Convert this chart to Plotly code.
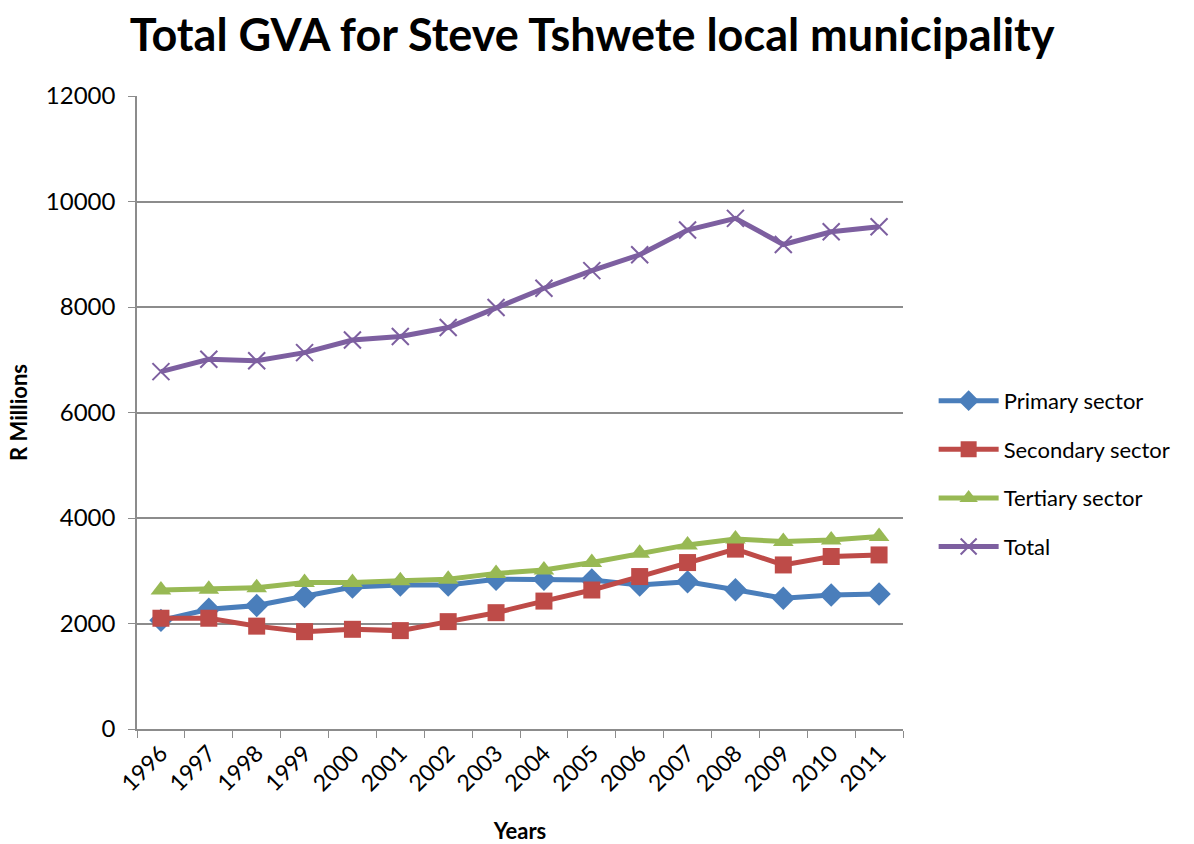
import plotly.graph_objects as go

years = [str(y) for y in range(1996, 2012)]
primary = [2060, 2270, 2340, 2510, 2690, 2730, 2730, 2840, 2840, 2825, 2730, 2790, 2640, 2480, 2540, 2560]
secondary = [2100, 2100, 1950, 1845, 1890, 1865, 2035, 2205, 2425, 2635, 2890, 3155, 3410, 3110, 3270, 3300]
tertiary = [2635, 2650, 2680, 2775, 2775, 2810, 2840, 2950, 3015, 3155, 3330, 3490, 3600, 3555, 3585, 3650]
total = [6775, 7010, 6980, 7135, 7375, 7440, 7610, 7990, 8355, 8690, 8990, 9460, 9680, 9185, 9425, 9520]
y_ticks = [0, 2000, 4000, 6000, 8000, 10000, 12000]

FONT = "Lato"
GRID = "#8c8c8c"

series = [
    ("Primary sector", primary, "#4A7EBB", "diamond", 18),
    ("Secondary sector", secondary, "#BE4B48", "square", 17),
    ("Tertiary sector", tertiary, "#98B954", "triangle-up", 18),
    ("Total", total, "#7D5FA0", "x-thin", 17),
]

fig = go.Figure()
for name, vals, color, sym, size in series:
    if sym == "x-thin":
        marker = dict(symbol=sym, size=size, color=color, line=dict(color=color, width=2))
    else:
        marker = dict(symbol=sym, size=size, color=color)
    fig.add_trace(go.Scatter(
        x=years, y=vals, name=name, mode="lines+markers", legendgroup=name,
        line=dict(color=color, width=5), marker=marker,
    ))

fig.update_layout(
    width=1194, height=844,
    margin=dict(l=137, r=291, t=96, b=115),
    paper_bgcolor="white", plot_bgcolor="white",
    font=dict(family=FONT, size=22, color="black"),
    title=dict(
        text="<b>Total GVA for Steve Tshwete local municipality</b>",
        x=0.496, xanchor="center", y=0.958, yanchor="middle",
        font=dict(family=FONT, size=45, color="black"),
    ),
    showlegend=True,
    legend=dict(
        x=1.04, xanchor="left", y=0.403, yanchor="middle",
        font=dict(family=FONT, size=22), tracegroupgap=17,
        itemwidth=60, bgcolor="rgba(0,0,0,0)",
    ),
    xaxis=dict(
        type="category", range=[-0.5, 15.5], tickangle=-45, tickson="boundaries",
        ticks="outside", ticklen=7, tickcolor=GRID, automargin=False,
        showline=True, linecolor=GRID, linewidth=1.5,
        showgrid=False, tickfont=dict(family=FONT, size=23),
        title=dict(text="<b>Years</b>", font=dict(family=FONT, size=22), standoff=28),
    ),
    yaxis=dict(
        range=[0, 12000], tickmode="array", tickvals=y_ticks,
        ticktext=[str(v) for v in y_ticks], automargin=False,
        ticks="outside", ticklen=7, tickcolor=GRID,
        showline=True, linecolor=GRID, linewidth=1.5,
        showgrid=True, gridcolor=GRID, gridwidth=1.5,
        zeroline=False, tickfont=dict(family=FONT, size=24), ticklabelstandoff=8,
        title=dict(text="<b>R Millions</b>", font=dict(family=FONT, size=22), standoff=12),
    ),
)

fig.write_html("out.html")
